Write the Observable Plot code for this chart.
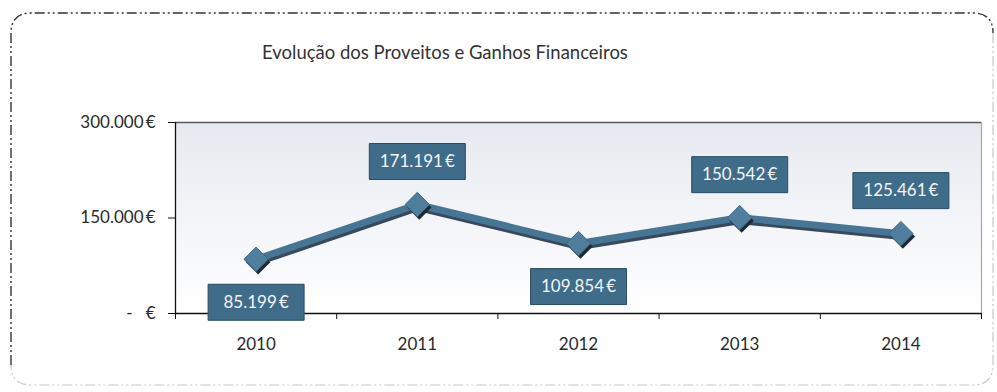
<!DOCTYPE html>
<html>
<head>
<meta charset="utf-8">
<script src="https://cdn.jsdelivr.net/npm/d3@7"></script>
<script src="https://cdn.jsdelivr.net/npm/@observablehq/plot@0.6"></script>
<style>
  body { margin: 0; background: #fff; }
  #wrap { position: relative; width: 997px; height: 392px; overflow: hidden; font-family: Lato, "Open Sans", sans-serif; }
  #border { position: absolute; left: 0; top: 0; }
  #title { position: absolute; left: 262px; top: 41px; font-size: 18.5px; color: #333; white-space: nowrap; }
  #chart { position: absolute; left: 0; top: 0; }
</style>
</head>
<body>
<div id="wrap">
  <svg id="border" width="997" height="392"></svg>
  <div id="chart"></div>
  <div id="title">Evolução dos Proveitos e Ganhos Financeiros</div>
</div>
<script>
// ---- data ----
const years = [2010, 2011, 2012, 2013, 2014];
const values = [85199, 171191, 109854, 150542, 125461];
const yTicks = [0, 150000, 300000];
const labelPlacement = ["below", "above", "below", "above", "above"];

// ---- build ----
const data = years.map((year, i) => ({year, value: values[i], pos: labelPlacement[i]}));
const locale = d3.formatLocale({decimal: ",", thousands: ".", grouping: [3], currency: ["", "\u2009€"]});
const fmt = locale.format(",.0f");
const fmtY = v => v === 0 ? "-\u00a0\u00a0\u00a0€" : fmt(v) + "\u2009€";
const fmtLabel = v => fmt(v) + "\u2009€";

const xDomain = [years[0] - 0.5, years[years.length - 1] + 0.5];
const boundaries = d3.range(xDomain[0], xDomain[1] + 0.01, 1);
const yMax = yTicks[yTicks.length - 1];

const boxSymbol = {draw(ctx) { ctx.rect(-48, -18, 96, 36); }};

const defs = () => {
  const g = d3.create("svg:defs");
  const lg = g.append("linearGradient").attr("id", "plotbg").attr("x1", 0).attr("y1", 0).attr("x2", 0).attr("y2", 1);
  lg.append("stop").attr("offset", "0%").attr("stop-color", "#e6eaf0");
  lg.append("stop").attr("offset", "100%").attr("stop-color", "#ffffff");
  return g.node();
};

const above = data.filter(d => d.pos === "above");
const below = data.filter(d => d.pos === "below");
const OFF = 43;

const chart = Plot.plot({
  width: 997,
  height: 392,
  marginLeft: 175,
  marginRight: 16,
  marginTop: 122,
  marginBottom: 79,
  style: {fontFamily: "Lato, 'Open Sans', sans-serif", background: "transparent", color: "#2a2a2a"},
  x: {type: "linear", domain: xDomain},
  y: {domain: [0, yMax]},
  marks: [
    defs,
    Plot.frame({fill: "url(#plotbg)", stroke: null}),
    Plot.ruleY([yMax], {stroke: "#5a5a5a", strokeWidth: 1.5}),
    Plot.ruleX([xDomain[1]], {stroke: "#a8a8a8", strokeWidth: 1.2}),
    Plot.axisY({ticks: yTicks, tickFormat: fmtY, tickSize: 7, tickPadding: 13, fontSize: 17, label: null, stroke: "#111"}),
    Plot.axisX({ticks: boundaries, tickSize: 6, tickFormat: () => "", label: null, stroke: "#111"}),
    Plot.axisX({ticks: years, tickSize: 0, tickPadding: 24, tickFormat: d => String(d), fontSize: 17, label: null}),
    Plot.ruleX([xDomain[0]], {stroke: "#111", strokeWidth: 1.3}),
    Plot.ruleY([0], {stroke: "#111", strokeWidth: 1.3}),
    // line with shadow
    Plot.line(data, {x: "year", y: "value", stroke: "#22364a", strokeWidth: 8, dx: 1, dy: 2.5, strokeOpacity: 0.9}),
    Plot.line(data, {x: "year", y: "value", stroke: "#467694", strokeWidth: 7}),
    // diamond markers with shadow
    Plot.dot(data, {x: "year", y: "value", symbol: "diamond2", r: 11, fill: "#1e2a33", dx: 2, dy: 3}),
    Plot.dot(data, {x: "year", y: "value", symbol: "diamond2", r: 11, fill: "#4f7f9c", stroke: "#3d6883", strokeWidth: 1}),
    // data label boxes
    Plot.dot(above, {x: "year", y: "value", symbol: boxSymbol, r: 5, fill: "#3f6c88", stroke: "#2c4c60", strokeWidth: 1, dy: -OFF}),
    Plot.dot(below, {x: "year", y: "value", symbol: boxSymbol, r: 5, fill: "#3f6c88", stroke: "#2c4c60", strokeWidth: 1, dy: OFF}),
    Plot.text(above, {x: "year", y: "value", text: d => fmtLabel(d.value), fill: "#f3f6f9", fontSize: 17, dy: -OFF}),
    Plot.text(below, {x: "year", y: "value", text: d => fmtLabel(d.value), fill: "#f3f6f9", fontSize: 17, dy: OFF})
  ]
});
document.getElementById("chart").appendChild(chart);

// decorative dash-dot rounded border
const b = d3.select("#border");
const L = 11, T = 13, R = 993, B = 385, rad = 20;
b.append("path")
  .attr("d", `M${L},${B - rad} L${L},${T + rad} Q${L},${T} ${L + rad},${T} L${R - rad},${T} Q${R},${T} ${R},${T + rad}`)
  .attr("fill", "none").attr("stroke", "#333").attr("stroke-width", 1.4)
  .attr("stroke-dasharray", "10 3 2 3 2 3");
b.append("path")
  .attr("d", `M${R},${T + rad} L${R},${B - rad} Q${R},${B} ${R - rad},${B} L${L + rad},${B} Q${L},${B} ${L},${B - rad}`)
  .attr("fill", "none").attr("stroke", "#c8c8c8").attr("stroke-width", 1.2)
  .attr("stroke-dasharray", "10 3 2 3 2 3");
</script>
</body>
</html>
